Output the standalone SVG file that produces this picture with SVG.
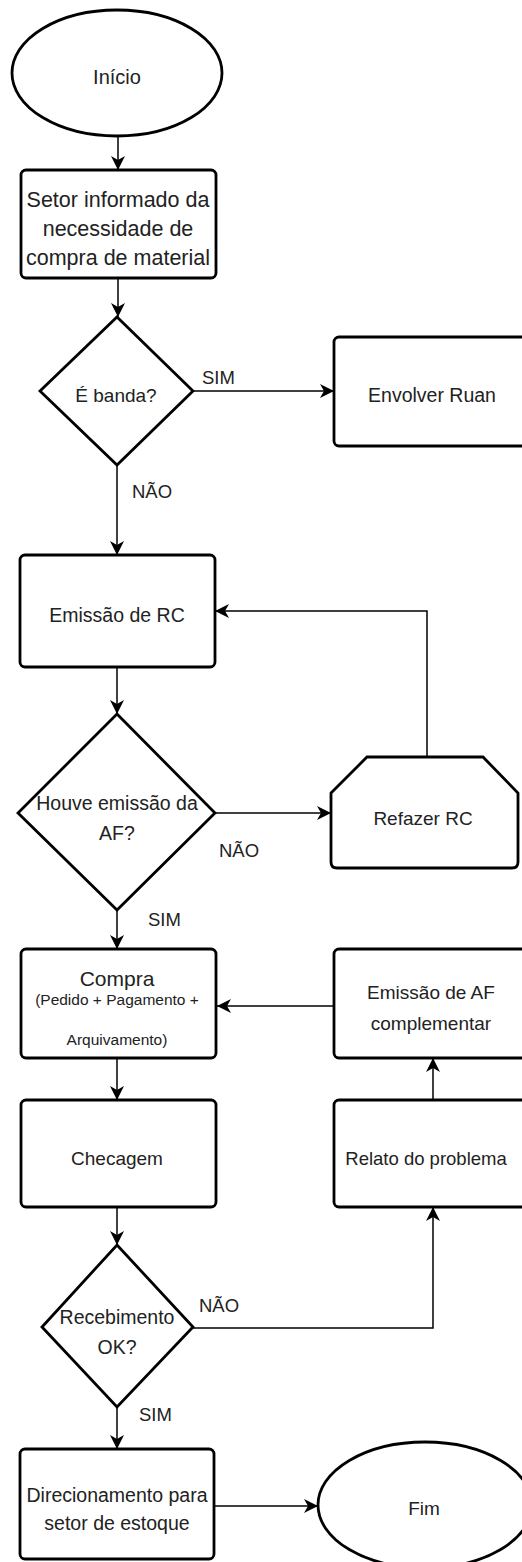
<svg xmlns="http://www.w3.org/2000/svg" width="522" height="1562" viewBox="0 0 522 1562">
<style>
.s{fill:#fff;stroke:#000;stroke-width:2.8}
.c{fill:none;stroke:#000;stroke-width:1.5}
text{font-family:"Liberation Sans",Arial,sans-serif;fill:#222;text-anchor:middle}
.l{text-anchor:start}
</style>
<defs>
<marker id="a" markerUnits="userSpaceOnUse" markerWidth="15" markerHeight="15" refX="14" refY="7" orient="auto">
<path d="M0,0 L14,7 L0,14 L4,7 z" fill="#000"/>
</marker>
</defs>
<rect width="522" height="1562" fill="#fff"/>
<g id="connectors" class="c">
<path class="c" d="M118,137 V170" marker-end="url(#a)"/>
<path class="c" d="M118,278 V317" marker-end="url(#a)"/>
<path class="c" d="M193,391 H334" marker-end="url(#a)"/>
<path class="c" d="M117,465 V555" marker-end="url(#a)"/>
<path class="c" d="M117,667 V714" marker-end="url(#a)"/>
<path class="c" d="M215,813 H331" marker-end="url(#a)"/>
<path class="c" d="M427,757 V611 H215" marker-end="url(#a)"/>
<path class="c" d="M117,910 V949" marker-end="url(#a)"/>
<path class="c" d="M334,1006 H217" marker-end="url(#a)"/>
<path class="c" d="M117,1058 V1100" marker-end="url(#a)"/>
<path class="c" d="M433,1100 V1058" marker-end="url(#a)"/>
<path class="c" d="M117,1207 V1245" marker-end="url(#a)"/>
<path class="c" d="M193,1328 H433 V1207" marker-end="url(#a)"/>
<path class="c" d="M117,1407 V1449" marker-end="url(#a)"/>
<path class="c" d="M213,1506 H318" marker-end="url(#a)"/>
</g>
<g id="labels" font-size="18.5">
<text class="l" x="202" y="384">SIM</text>
<text class="l" x="132" y="498">NÃO</text>
<text class="l" x="219" y="857">NÃO</text>
<text class="l" x="148" y="926">SIM</text>
<text class="l" x="199" y="1312">NÃO</text>
<text class="l" x="139" y="1421">SIM</text>
</g>
<g id="inicio">
<ellipse class="s" cx="117" cy="73" rx="105" ry="63"/>
<text x="117" y="84" font-size="20">Início</text>
</g>
<g id="setor">
<rect class="s" x="21" y="170" width="195" height="108" rx="5"/>
<text x="118" y="207" font-size="21.5">Setor informado da</text>
<text x="118" y="236" font-size="21.5">necessidade de</text>
<text x="118" y="265" font-size="21.5">compra de material</text>
</g>
<g id="banda">
<path class="s" d="M117,317 L193,391 L117,465 L40,391 Z"/>
<text x="116" y="402" font-size="19">É banda?</text>
</g>
<g id="envolver">
<rect class="s" x="334" y="337" width="196" height="109" rx="5"/>
<text x="432" y="402" font-size="19.5">Envolver Ruan</text>
</g>
<g id="emissao-rc">
<rect class="s" x="20" y="555" width="195" height="112" rx="5"/>
<text x="117" y="622" font-size="19.5">Emissão de RC</text>
</g>
<g id="houve">
<path class="s" d="M117,714 L215,813 L117,910 L18,813 Z"/>
<text x="117" y="810" font-size="19.5">Houve emissão da</text>
<text x="117" y="840" font-size="19.5">AF?</text>
</g>
<g id="refazer">
<path class="s" d="M331,793 L367,757 L483,757 L518,793 V862 Q518,868 512,868 H337 Q331,868 331,862 Z"/>
<text x="423" y="825" font-size="19">Refazer RC</text>
</g>
<g id="compra">
<rect class="s" x="21" y="949" width="195" height="109" rx="5"/>
<text x="117" y="986" font-size="21">Compra</text>
<text x="117" y="1005" font-size="15.5">(Pedido + Pagamento +</text>
<text x="117" y="1045" font-size="15.5">Arquivamento)</text>
</g>
<g id="emissao-af">
<rect class="s" x="334" y="949" width="196" height="109" rx="5"/>
<text x="431" y="999" font-size="19">Emissão de AF</text>
<text x="431" y="1030" font-size="19">complementar</text>
</g>
<g id="checagem">
<rect class="s" x="21" y="1100" width="195" height="107" rx="5"/>
<text x="117" y="1165" font-size="19">Checagem</text>
</g>
<g id="relato">
<rect class="s" x="334" y="1100" width="196" height="107" rx="5"/>
<text x="426" y="1165" font-size="18.5">Relato do problema</text>
</g>
<g id="recebimento">
<path class="s" d="M117,1245 L193,1327 L117,1407 L42,1327 Z"/>
<text x="117" y="1324" font-size="19.5">Recebimento</text>
<text x="117" y="1354" font-size="19.5">OK?</text>
</g>
<g id="direcionamento">
<rect class="s" x="20" y="1449" width="194" height="110" rx="5"/>
<text x="117" y="1502" font-size="19.5">Direcionamento para</text>
<text x="117" y="1530" font-size="19.5">setor de estoque</text>
</g>
<g id="fim">
<ellipse class="s" cx="425" cy="1505" rx="107" ry="63"/>
<text x="424" y="1515" font-size="19">Fim</text>
</g>
</svg>
